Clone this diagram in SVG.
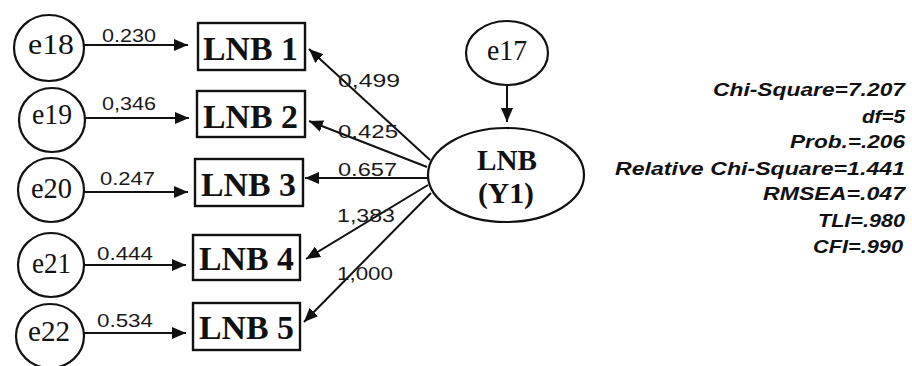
<svg xmlns="http://www.w3.org/2000/svg" width="912" height="366" viewBox="0 0 912 366">
<defs>
<marker id="ah" markerUnits="userSpaceOnUse" markerWidth="16" markerHeight="12" refX="14" refY="6" orient="auto">
<path d="M0,0 L14,6 L0,12 Z" fill="#111"/>
</marker>
<style>
.circ{fill:#fff;stroke:#111;stroke-width:2.2}
.box{fill:#fff;stroke:#111;stroke-width:2.4}
.etxt{font-family:"Liberation Serif",serif;font-size:30px;fill:#111}
.btxt{font-family:"Liberation Serif",serif;font-size:34px;font-weight:bold;fill:#111}
.ltxt{font-family:"Liberation Serif",serif;font-size:29px;font-weight:bold;fill:#111}
.num{font-family:"Liberation Sans",Arial,sans-serif;font-size:19px;fill:#1a1a1a}
.stat{font-family:"Liberation Sans",Arial,sans-serif;font-size:18px;font-weight:bold;font-style:italic;fill:#111;text-anchor:end}
.con{stroke:#111;stroke-width:2;fill:none;marker-end:url(#ah)}
</style>
</defs>
<rect width="912" height="366" fill="#fff"/>
<g id="connectors">
<line class="con" x1="84" y1="45" x2="188" y2="45"/>
<line class="con" x1="85" y1="118" x2="189" y2="118"/>
<line class="con" x1="84" y1="192" x2="188" y2="192"/>
<line class="con" x1="84" y1="265" x2="186" y2="265"/>
<line class="con" x1="83" y1="333" x2="186" y2="333"/>
<line class="con" x1="430" y1="160" x2="309" y2="49"/>
<line class="con" x1="427" y1="167" x2="309" y2="121"/>
<line class="con" x1="428" y1="178" x2="305" y2="178"/>
<line class="con" x1="428" y1="185" x2="306" y2="259"/>
<line class="con" x1="431" y1="193" x2="304" y2="322"/>
<line class="con" x1="507" y1="85" x2="507" y2="122"/>
<text class="num" x="102" y="42" textLength="54" lengthAdjust="spacingAndGlyphs">0.230</text>
<text class="num" x="102" y="110" textLength="54" lengthAdjust="spacingAndGlyphs">0,346</text>
<text class="num" x="100" y="185" textLength="55" lengthAdjust="spacingAndGlyphs">0.247</text>
<text class="num" x="97" y="260" textLength="56" lengthAdjust="spacingAndGlyphs">0.444</text>
<text class="num" x="97" y="327" textLength="56" lengthAdjust="spacingAndGlyphs">0.534</text>
<text class="num" x="338" y="87" textLength="62" lengthAdjust="spacingAndGlyphs">0,499</text>
<text class="num" x="338" y="138" textLength="60" lengthAdjust="spacingAndGlyphs">0.425</text>
<text class="num" x="338" y="176" textLength="59" lengthAdjust="spacingAndGlyphs">0.657</text>
<text class="num" x="337" y="222" textLength="58" lengthAdjust="spacingAndGlyphs">1,383</text>
<text class="num" x="337" y="280" textLength="56" lengthAdjust="spacingAndGlyphs">1,000</text>
</g>
<g id="e18"><ellipse class="circ" cx="49" cy="48" rx="35" ry="33"/><text class="etxt" x="28" y="54" textLength="46" lengthAdjust="spacingAndGlyphs">e18</text></g>
<g id="e19"><ellipse class="circ" cx="52" cy="120" rx="33" ry="32"/><text class="etxt" x="32" y="124" textLength="40" lengthAdjust="spacingAndGlyphs">e19</text></g>
<g id="e20"><ellipse class="circ" cx="51" cy="190" rx="33" ry="32"/><text class="etxt" x="31" y="198" textLength="41" lengthAdjust="spacingAndGlyphs">e20</text></g>
<g id="e21"><ellipse class="circ" cx="51" cy="265" rx="33" ry="32"/><text class="etxt" x="32" y="273" textLength="39" lengthAdjust="spacingAndGlyphs">e21</text></g>
<g id="e22"><ellipse class="circ" cx="50" cy="336" rx="34" ry="32"/><text class="etxt" x="28" y="341" textLength="42" lengthAdjust="spacingAndGlyphs">e22</text></g>
<g id="lnb1"><rect class="box" x="198" y="23" width="107" height="47"/><text class="btxt" x="203" y="60" textLength="95" lengthAdjust="spacingAndGlyphs">LNB 1</text></g>
<g id="lnb2"><rect class="box" x="197" y="91" width="108" height="46"/><text class="btxt" x="203" y="128" textLength="95" lengthAdjust="spacingAndGlyphs">LNB 2</text></g>
<g id="lnb3"><rect class="box" x="195" y="159" width="108" height="47"/><text class="btxt" x="201" y="196" textLength="95" lengthAdjust="spacingAndGlyphs">LNB 3</text></g>
<g id="lnb4"><rect class="box" x="193" y="235" width="107" height="45"/><text class="btxt" x="199" y="270" textLength="95" lengthAdjust="spacingAndGlyphs">LNB 4</text></g>
<g id="lnb5"><rect class="box" x="193" y="303" width="107" height="47"/><text class="btxt" x="199" y="339" textLength="95" lengthAdjust="spacingAndGlyphs">LNB 5</text></g>
<g id="e17"><ellipse class="circ" cx="507" cy="53" rx="41" ry="32"/><text class="etxt" x="487" y="60" font-size="26" textLength="40" lengthAdjust="spacingAndGlyphs">e17</text></g>
<g id="lnbY1"><ellipse class="circ" cx="506" cy="175" rx="78" ry="47"/><text class="ltxt" x="507" y="170" text-anchor="middle" textLength="60" lengthAdjust="spacingAndGlyphs">LNB</text><text class="ltxt" x="506" y="203" text-anchor="middle" textLength="56" lengthAdjust="spacingAndGlyphs">(Y1)</text></g>
<g id="fit">
<text class="stat" x="905" y="96" textLength="192" lengthAdjust="spacingAndGlyphs">Chi-Square=7.207</text>
<text class="stat" x="905" y="123" textLength="43" lengthAdjust="spacingAndGlyphs">df=5</text>
<text class="stat" x="905" y="148" textLength="115" lengthAdjust="spacingAndGlyphs">Prob.=.206</text>
<text class="stat" x="905" y="175" textLength="290" lengthAdjust="spacingAndGlyphs">Relative Chi-Square=1.441</text>
<text class="stat" x="905" y="200" textLength="142" lengthAdjust="spacingAndGlyphs">RMSEA=.047</text>
<text class="stat" x="905" y="227" textLength="87" lengthAdjust="spacingAndGlyphs">TLI=.980</text>
<text class="stat" x="903" y="253" textLength="90" lengthAdjust="spacingAndGlyphs">CFI=.990</text>
</g>
</svg>
